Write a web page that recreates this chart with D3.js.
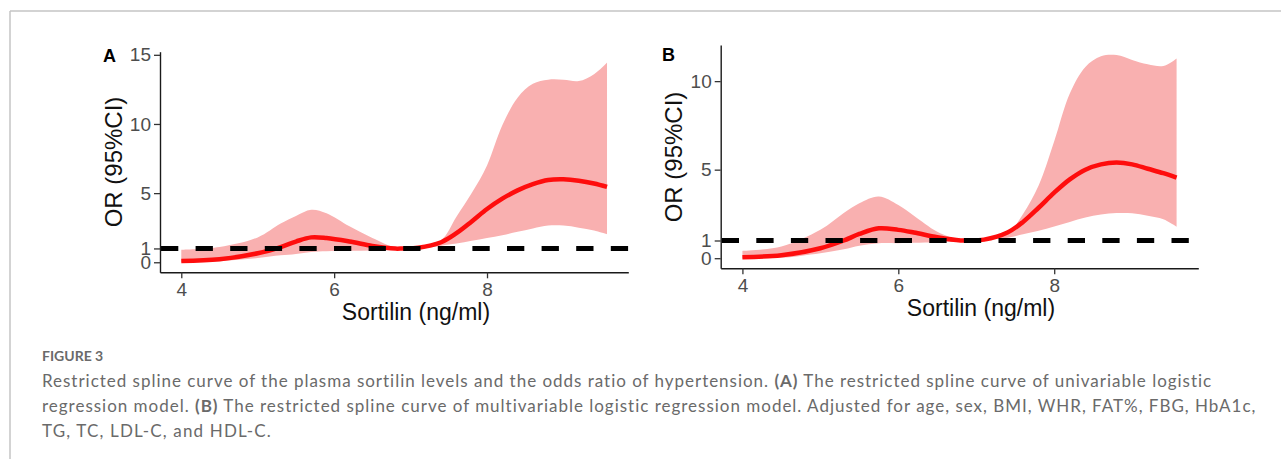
<!DOCTYPE html>
<html>
<head>
<meta charset="utf-8">
<script src="https://cdn.jsdelivr.net/npm/d3@7"></script>
<style>
  body { margin: 0; background: #fff; }
  svg { display: block; }
</style>
</head>
<body>
<svg id="fig" width="1281" height="459"></svg>
<script>
// panel A: univariable model
const sortilinA = [4.0, 4.5, 5.0, 5.3, 5.5, 5.7, 5.9, 6.2, 6.5, 6.8, 6.9, 7.1, 7.4, 7.6, 7.8, 8.0, 8.2, 8.4, 8.6, 8.8, 9.0, 9.2, 9.4, 9.57];
const orA    = [0.10, 0.22, 0.65, 1.10, 1.50, 1.80, 1.75, 1.50, 1.18, 0.99, 1.00, 1.05, 1.45, 2.10, 2.95, 3.85, 4.60, 5.20, 5.65, 5.95, 6.00, 5.90, 5.70, 5.45];
const lowerA = [0.02, 0.08, 0.30, 0.50, 0.60, 0.75, 0.80, 0.83, 0.86, 0.95, 1.00, 1.02, 1.20, 1.35, 1.55, 1.75, 1.95, 2.20, 2.45, 2.65, 2.65, 2.50, 2.30, 2.03];
const upperA = [0.90, 1.10, 1.80, 2.80, 3.35, 3.80, 3.55, 2.60, 1.75, 1.05, 1.00, 1.05, 1.60, 3.30, 5.00, 7.00, 9.90, 11.9, 12.9, 13.2, 13.2, 13.1, 13.6, 14.45];

// panel B: multivariable model
const sortilinB = [4.0, 4.5, 5.0, 5.3, 5.5, 5.75, 6.0, 6.2, 6.5, 6.8, 6.9, 7.1, 7.4, 7.6, 7.8, 8.0, 8.2, 8.4, 8.6, 8.8, 9.0, 9.2, 9.4, 9.57];
const orB    = [0.06, 0.17, 0.56, 1.00, 1.37, 1.69, 1.60, 1.45, 1.18, 1.00, 1.00, 1.05, 1.45, 2.05, 2.85, 3.70, 4.45, 5.00, 5.30, 5.40, 5.30, 5.05, 4.80, 4.55];
const lowerB = [0.00, 0.02, 0.28, 0.50, 0.70, 0.85, 0.85, 0.87, 0.90, 0.96, 1.00, 1.03, 1.15, 1.35, 1.55, 1.79, 2.05, 2.30, 2.47, 2.55, 2.54, 2.40, 2.20, 1.78];
const upperB = [0.41, 0.66, 1.60, 2.55, 3.10, 3.48, 3.00, 2.40, 1.50, 1.03, 1.00, 1.05, 1.40, 2.50, 4.10, 6.60, 9.30, 10.8, 11.4, 11.47, 11.2, 10.95, 10.85, 11.28];

const xTicks = [4, 6, 8];
const yTicksA = [0, 1, 5, 10, 15];
const yTicksB = [0, 1, 5, 10];
const refOR = 1;

const figureLabel = "FIGURE 3";
const captionLines = [
	[["Restricted spline curve of the plasma sortilin levels and the odds ratio of hypertension. ", false], ["(A)", true], [" The restricted spline curve of univariable logistic", false]],
	[["regression model. ", false], ["(B)", true], [" The restricted spline curve of multivariable logistic regression model. Adjusted for age, sex, BMI, WHR, FAT%, FBG, HbA1c,", false]],
	[["TG, TC, LDL-C, and HDL-C.", false]]
];
const captionWidths = [1171, 1215, 230];

const svg = d3.select("#fig");

// frame
svg.append("line").attr("x1", 10).attr("x2", 1281).attr("y1", 11).attr("y2", 11)
	.attr("stroke", "#c4c4c4").attr("stroke-width", 1.5);
svg.append("line").attr("x1", 10).attr("x2", 10).attr("y1", 11).attr("y2", 459)
	.attr("stroke", "#c4c4c4").attr("stroke-width", 1.5);

function drawPanel(p) {
	let g = svg.append("g");

	let xScale = d3.scaleLinear().domain([3.7215, 9.8485]).range([p.left, p.right]);
	let yScale = d3.scaleLinear().domain(p.yDomain).range([p.bottom, p.top]);

	let rows = p.xs.map(function(x, i) {
		return {x: x, or: p.or[i], lo: p.lower[i], hi: p.upper[i]};
	});

	let area = d3.area()
		.x(function(d) { return xScale(d.x); })
		.y0(function(d) { return yScale(d.lo); })
		.y1(function(d) { return yScale(d.hi); })
		.curve(d3.curveCatmullRom.alpha(0.5));

	let line = d3.line()
		.x(function(d) { return xScale(d.x); })
		.y(function(d) { return yScale(d.or); })
		.curve(d3.curveCatmullRom.alpha(0.5));

	g.append("path").datum(rows).attr("d", area).attr("fill", "#f9b0b0");
	g.append("path").datum(rows).attr("d", line)
		.attr("fill", "none").attr("stroke", "#fe0d0d").attr("stroke-width", 4.5);

	// reference line OR = 1
	g.append("line")
		.attr("x1", p.left + 1).attr("x2", p.right)
		.attr("y1", yScale(refOR)).attr("y2", yScale(refOR))
		.attr("stroke", "#000").attr("stroke-width", 5)
		.attr("stroke-dasharray", "17.3,17.3");

	let xAxis = d3.axisBottom(xScale).tickValues(xTicks).tickFormat(d3.format("d"))
		.tickSizeInner(6).tickSizeOuter(0).tickPadding(4);
	let yAxis = d3.axisLeft(yScale).tickValues(p.yTicks).tickFormat(d3.format("d"))
		.tickSizeInner(6).tickSizeOuter(0).tickPadding(3);

	let gx = g.append("g").attr("transform", "translate(0," + p.bottom + ")").call(xAxis);
	let gy = g.append("g").attr("transform", "translate(" + p.left + ",0)").call(yAxis);

	[gx, gy].forEach(function(ax) {
		ax.select(".domain").attr("stroke", "#1a1a1a").attr("stroke-width", 1.4);
		ax.selectAll(".tick line").attr("stroke", "#333").attr("stroke-width", 1.3);
		ax.selectAll(".tick text")
			.attr("fill", "#4d4d4d")
			.style("font-family", "'Liberation Sans', Arial, sans-serif")
			.style("font-size", "19px");
	});

	g.append("text")
		.attr("x", p.xTitleX).attr("y", p.bottom + 48)
		.attr("text-anchor", "middle")
		.style("font-family", "'Liberation Sans', Arial, sans-serif")
		.style("font-size", "23px")
		.attr("fill", "#111")
		.text("Sortilin (ng/ml)");

	g.append("text")
		.attr("transform", "translate(" + (p.yTitleX) + "," + p.yTitleY + ") rotate(-90)")
		.attr("text-anchor", "middle")
		.style("font-family", "'Liberation Sans', Arial, sans-serif")
		.style("font-size", "24px")
		.attr("fill", "#111")
		.text("OR (95%CI)");

	g.append("text")
		.attr("x", p.labelX).attr("y", p.labelY)
		.style("font-family", "'Liberation Sans', Arial, sans-serif")
		.style("font-size", "18px")
		.style("font-weight", "bold")
		.text(p.label);
}

drawPanel({
	xs: sortilinA, or: orA, lower: lowerA, upper: upperA, yTicks: yTicksA,
	yDomain: [-0.725, 15.225], left: 160, right: 628.3, top: 51.7, bottom: 272.3,
	xTitleX: 416, yTitleX: 122, yTitleY: 162, label: "A", labelX: 103, labelY: 62
});

drawPanel({
	xs: sortilinB, or: orB, lower: lowerB, upper: upperB, yTicks: yTicksB,
	yDomain: [-0.57, 12.04], left: 720.7, right: 1198.3, top: 45, bottom: 268.3,
	xTitleX: 981, yTitleX: 682, yTitleY: 157, label: "B", labelX: 662, labelY: 61
});

// caption
svg.append("text")
	.attr("x", 42).attr("y", 360.5)
	.attr("fill", "#6a6a6a")
	.style("font-family", "Lato, 'Open Sans', sans-serif")
	.style("font-size", "14px")
	.style("font-weight", "bold")
	.text(figureLabel);

captionLines.forEach(function(parts, i) {
	let t = svg.append("text")
		.attr("x", 42).attr("y", 387 + i * 25)
		.attr("fill", "#6a6a6a")
		.style("font-family", "Lato, 'Open Sans', sans-serif")
		.style("font-size", "17px");
	parts.forEach(function(part) {
		t.append("tspan").style("font-weight", part[1] ? "bold" : "normal").text(part[0]);
	});
	let w = t.node().getComputedTextLength();
	let n = parts.map(function(p) { return p[0]; }).join("").length;
	t.attr("letter-spacing", ((captionWidths[i] - w) / n).toFixed(3) + "px");
});
</script>
</body>
</html>
